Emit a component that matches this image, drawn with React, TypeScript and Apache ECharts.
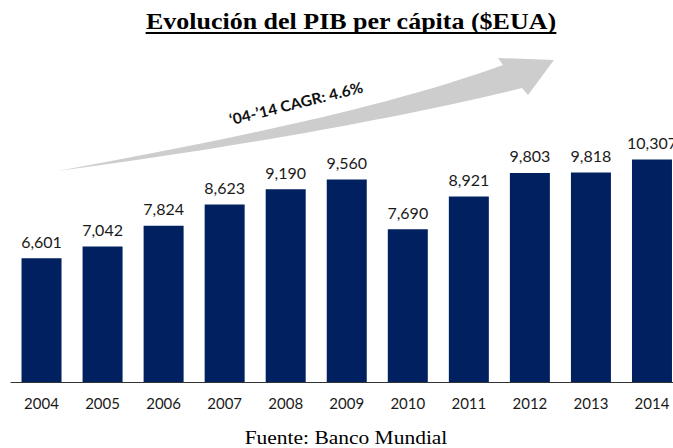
import React, { useEffect, useRef } from "react";
import * as echarts from "echarts";

const years = ["2004", "2005", "2006", "2007", "2008", "2009", "2010", "2011", "2012", "2013", "2014"];
const gdpPerCapita = [6601, 7042, 7824, 8623, 9190, 9560, 7690, 8921, 9803, 9818, 10307];
const titleText = "Evolución del PIB per cápita ($EUA)";
const sourceText = "Fuente: Banco Mundial";
const cagrText = "\u201804-\u201914 CAGR: 4.6%";

const ARROW_D =
  "M57,171 C200,145 380,110 503,65 L498,58 L554,60 L528,95 L522,88 C400,118 220,150 57,171 Z";

let registered = false;
function ensureShape() {
  if (!registered) {
    echarts.graphic.registerShape("cagrArrow", echarts.graphic.extendPath(ARROW_D, {}) as any);
    registered = true;
  }
}

const TITLE_FONT = 'bold 23px "Liberation Serif", "Times New Roman", serif';
const SERIF_STRETCH = 1.13;

function measure(text: string, font: string): number {
  const c = document.createElement("canvas").getContext("2d");
  if (!c) return 362;
  c.font = font;
  return c.measureText(text).width;
}

export default function App() {
  const ref = useRef<HTMLDivElement>(null);

  useEffect(() => {
    if (!ref.current) return;
    ensureShape();
    const chart = echarts.init(ref.current, undefined, { renderer: "svg" });
    const titleCx = 351;
    const tw = measure(titleText, TITLE_FONT) * SERIF_STRETCH;

    chart.setOption({
      animation: false,
      backgroundColor: "#ffffff",
      grid: { left: 11, width: 671.5, top: 114.5, bottom: 66 },
      xAxis: {
        type: "category",
        data: years,
        axisLine: { show: true, lineStyle: { color: "#333333", width: 1 } },
        axisTick: { show: false },
        axisLabel: {
          color: "#1a1a1a",
          fontFamily: "Lato",
          fontSize: 15,
          margin: 13,
        },
      },
      yAxis: {
        type: "value",
        min: 1950,
        max: 12000,
        show: false,
        splitLine: { show: false },
      },
      series: [
        {
          type: "bar",
          data: gdpPerCapita,
          barWidth: 40,
          itemStyle: { color: "#002060" },
          label: {
            show: true,
            position: "top",
            distance: 9,
            color: "#1a1a1a",
            fontFamily: "Lato",
            fontSize: 16,
            formatter: (p: any) => Number(p.value).toLocaleString("en-US"),
          },
        },
      ],
      graphic: [
        {
          type: "cagrArrow",
          x: 0,
          y: 0,
          scaleX: 1,
          scaleY: 1,
          style: { fill: "#cdcdcd" },
          z: 1,
        },
        {
          type: "text",
          x: 296,
          y: 103,
          rotation: (14 * Math.PI) / 180,
          scaleX: 1.04,
          style: {
            text: cagrText,
            fontFamily: "Lato",
            fontWeight: "bold",
            fontSize: 15,
            fill: "#111111",
            align: "center",
            verticalAlign: "middle",
            textAlign: "center",
            textVerticalAlign: "middle",
          },
          z: 5,
        },
        {
          type: "text",
          x: titleCx,
          y: 21,
          scaleX: SERIF_STRETCH,
          style: {
            text: titleText,
            font: TITLE_FONT,
            fill: "#000000",
            align: "center",
            verticalAlign: "middle",
            textAlign: "center",
            textVerticalAlign: "middle",
          },
        },
        {
          type: "line",
          shape: { x1: titleCx - tw / 2, y1: 33, x2: titleCx + tw / 2, y2: 33 },
          style: { stroke: "#000000", lineWidth: 2 },
        },
        {
          type: "text",
          x: 346,
          y: 437,
          scaleX: SERIF_STRETCH,
          style: {
            text: sourceText,
            fontFamily: '"Liberation Serif", "Times New Roman", serif',
            fontSize: 19,
            fill: "#000000",
            align: "center",
            verticalAlign: "middle",
            textAlign: "center",
            textVerticalAlign: "middle",
          },
        },
      ],
    });

    return () => chart.dispose();
  }, []);

  return (
    <div
      style={{
        position: "fixed",
        left: 0,
        top: 0,
        width: 673,
        height: 448,
        overflow: "hidden",
        background: "#ffffff",
      }}
    >
      <div ref={ref} style={{ width: 690, height: 448 }} />
    </div>
  );
}
